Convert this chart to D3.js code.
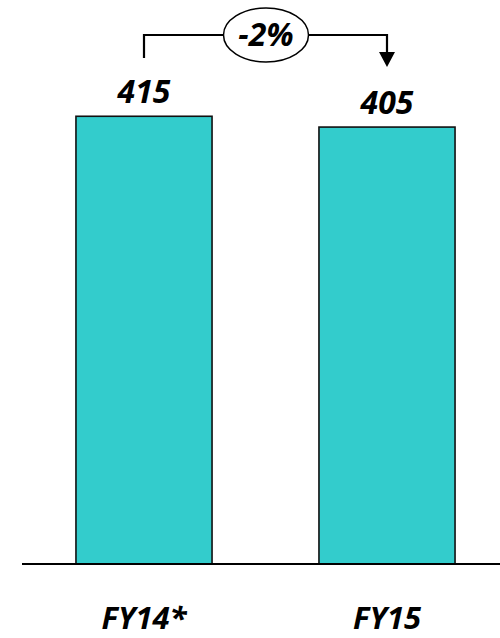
<!DOCTYPE html>
<html>
<head>
<meta charset="utf-8">
<script src="https://cdn.jsdelivr.net/npm/d3@7"></script>
<style>
  html, body { margin: 0; padding: 0; background: #fff; }
  svg { display: block; }
  text { font-family: "Open Sans", Lato, sans-serif; font-weight: 700; font-style: italic; fill: #000; }
</style>
</head>
<body>
<svg id="chart" width="500" height="638"></svg>
<script>
// Data
const categories = ["FY14*", "FY15"];
const values = [415, 405];
const changeLabel = "-2%";

const W = 500, H = 638;
const baseY = 564;
const labelFont = "'Open Sans', Lato, sans-serif";

const svg = d3.select("#chart");

const x = d3.scaleBand()
  .domain(categories)
  .range([22.5, 508.5])
  .paddingInner(0.44)
  .paddingOuter(0.22);

const y = d3.scaleLinear()
  .domain([0, 520])
  .range([baseY, 3]);

const rows = categories.map((c, i) => ({ cat: c, val: values[i] }));

// Bars
svg.append("g").selectAll("rect")
  .data(rows)
  .enter().append("rect")
  .attr("x", d => x(d.cat))
  .attr("y", d => y(d.val))
  .attr("width", x.bandwidth())
  .attr("height", d => y(0) - y(d.val))
  .attr("fill", "#33CCCC")
  .attr("stroke", "#111")
  .attr("stroke-width", 1.6);

// Baseline
svg.append("line")
  .attr("x1", 22).attr("x2", W)
  .attr("y1", baseY).attr("y2", baseY)
  .attr("stroke", "#000")
  .attr("stroke-width", 2);

// Value labels
svg.append("g").selectAll("text")
  .data(rows)
  .enter().append("text")
  .attr("x", d => x(d.cat) + x.bandwidth() / 2)
  .attr("y", d => y(d.val) - 13)
  .attr("text-anchor", "middle")
  .attr("font-size", 32)
  .text(d => d.val);

// Category labels
const xAxis = d3.axisBottom(x).tickSize(0).tickPadding(0);
const axisG = svg.append("g")
  .attr("transform", `translate(0,${baseY})`)
  .call(xAxis);
axisG.select(".domain").remove();
axisG.selectAll("text")
  .attr("dy", null)
  .attr("y", 65)
  .attr("font-size", 31)
  .attr("font-family", null)
  .style("font-family", labelFont)
  .style("font-weight", 700)
  .style("font-style", "italic")
  .attr("fill", "#000");

// Change annotation: bracket from first bar to second with an arrow
const cx1 = x(categories[0]) + x.bandwidth() / 2;
const cx2 = x(categories[1]) + x.bandwidth() / 2;
const topY = 35;
const ellCx = (cx1 + cx2) / 2 + 0.5, ellRx = 42.5, ellRy = 27;

const ann = svg.append("g");
ann.append("path")
  .attr("d", `M${cx1},58 V${topY} H${ellCx - ellRx}`)
  .attr("fill", "none").attr("stroke", "#000").attr("stroke-width", 2.2);
ann.append("path")
  .attr("d", `M${ellCx + ellRx},${topY} H${cx2} V54`)
  .attr("fill", "none").attr("stroke", "#000").attr("stroke-width", 2.2);
ann.append("path")
  .attr("d", `M${cx2 - 8},52 L${cx2 + 8},52 L${cx2},67 Z`)
  .attr("fill", "#000");
ann.append("ellipse")
  .attr("cx", ellCx).attr("cy", topY)
  .attr("rx", ellRx).attr("ry", ellRy)
  .attr("fill", "#fff").attr("stroke", "#000").attr("stroke-width", 1.5);
ann.append("text")
  .attr("x", ellCx).attr("y", topY + 11)
  .attr("text-anchor", "middle")
  .attr("font-size", 32)
  .text(changeLabel);
</script>
</body>
</html>
